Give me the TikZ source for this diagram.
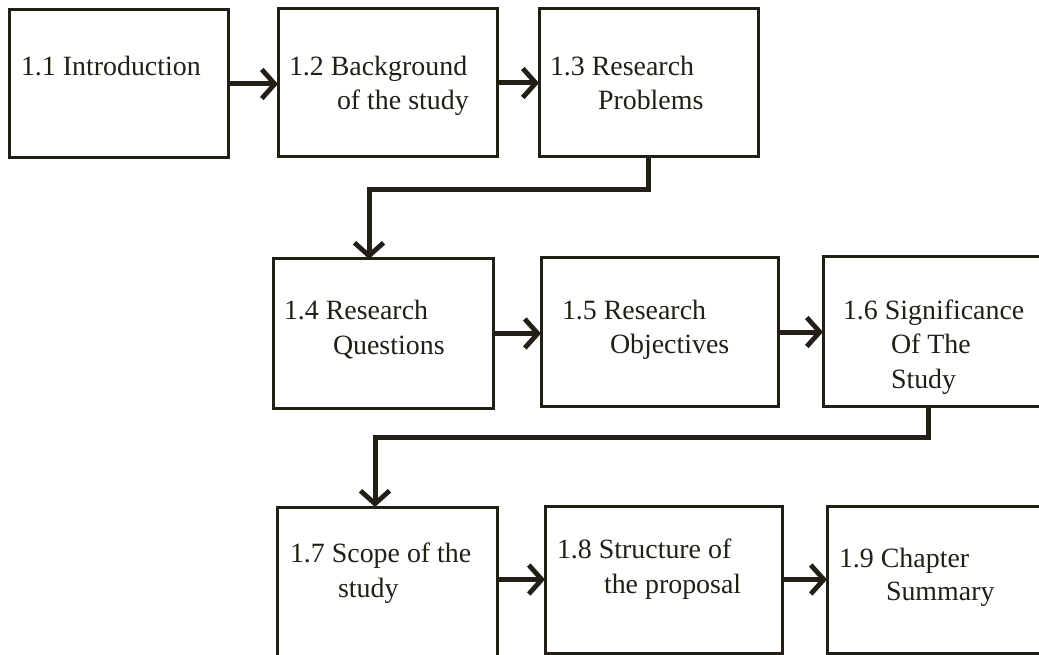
\documentclass[tikz,border=0pt]{standalone}
\usepackage{fontspec}
\setmainfont{Liberation Serif}
\usetikzlibrary{arrows.meta}
\definecolor{ink}{RGB}{34,31,22}
\begin{document}
\begin{tikzpicture}[x=1pt,y=-1pt,
  box/.style={draw=ink, line width=3pt, rectangle, inner sep=0pt, outer sep=0pt, anchor=north west},
  lbl/.style={anchor=base west, inner sep=0pt, outer sep=0pt, text=ink, font=\fontsize{27.9}{33}\selectfont},
  flow/.style={draw=ink, line width=5pt, -{Straight Barb[length=13pt, width=29pt, line width=4.8pt]}}]
\useasboundingbox (0,0) rectangle (1039,655);
\clip (0,0) rectangle (1039,655);
\fill[white] (0,0) rectangle (1039,655);

% boxes (north west corner, size)
\node[box, minimum width=219pt, minimum height=148pt] (b1) at (9,10) {};
\node[box, minimum width=219pt, minimum height=148pt] (b2) at (278,9) {};
\node[box, minimum width=219pt, minimum height=148pt] (b3) at (539,9) {};
\node[box, minimum width=220pt, minimum height=149pt] (b4) at (273,259) {};
\node[box, minimum width=237pt, minimum height=148pt] (b5) at (541,258) {};
\node[box, minimum width=240pt, minimum height=149pt] (b6) at (823,257) {};
\node[box, minimum width=220pt, minimum height=180pt] (b7) at (277,507) {};
\node[box, minimum width=237pt, minimum height=147pt] (b8) at (545,506) {};
\node[box, minimum width=240pt, minimum height=147pt] (b9) at (827,506) {};

% labels
\node[lbl] (t1)  at (21,76)  {1.1 Introduction};
\node[lbl] (t2a) at (289,76) {1.2 Background};
\node[lbl] (t2b) at (337,110) {of the study};
\node[lbl] (t3a) at (550,76) {1.3 Research};
\node[lbl] (t3b) at (598,110) {Problems};
\node[lbl] (t4a) at (284,319) {1.4 Research};
\node[lbl] (t4b) at (333,354) {Questions};
\node[lbl] (t5a) at (562,319) {1.5 Research};
\node[lbl] (t5b) at (610,353) {Objectives};
\node[lbl] (t6a) at (843,319) {1.6 Significance};
\node[lbl] (t6b) at (891,353) {Of The};
\node[lbl] (t6c) at (891,388) {Study};
\node[lbl] (t7a) at (290,562) {1.7 Scope of the};
\node[lbl] (t7b) at (338,597) {study};
\node[lbl] (t8a) at (557,558) {1.8 Structure of};
\node[lbl] (t8b) at (604,593) {the proposal};
\node[lbl] (t9a) at (839,567) {1.9 Chapter};
\node[lbl] (t9b) at (886,600) {Summary};

% bend points of the row-to-row connectors
\coordinate (k1) at (369,190);
\coordinate (k2) at (375,437);
\coordinate (k3) at (928,437);

% connectors
\draw[flow] (b1.east) -- (b1.east -| b2.west);
\draw[flow] (b2.east) -- (b2.east -| b3.west);
\draw[flow] (b3.south) |- (k1) -- (k1 |- b4.north);
\draw[flow] (b4.east) -- (b4.east -| b5.west);
\draw[flow] (b5.east) -- (b5.east -| b6.west);
\draw[flow] (k3 |- b6.south) -- (k3) -- (k2) -- (k2 |- b7.north);
\draw[flow] (b8.west -| b7.east) -- (b8.west);
\draw[flow] (b8.east) -- (b8.east -| b9.west);
\end{tikzpicture}
\end{document}
